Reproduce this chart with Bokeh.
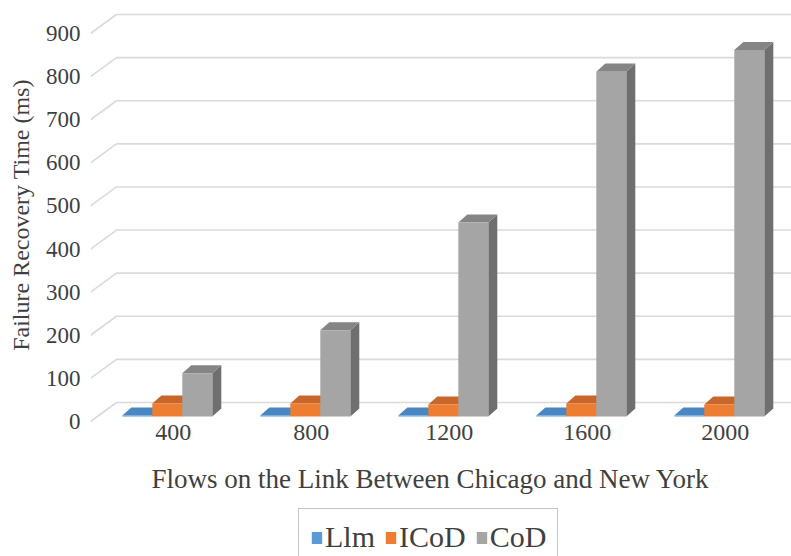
from bokeh.plotting import figure
from bokeh.layouts import column
from bokeh.models import Range1d, FixedTicker, Legend, LegendItem, Label
from bokeh.embed import file_html
from bokeh.resources import INLINE

# ---- data -------------------------------------------------------------
categories = ["400", "800", "1200", "1600", "2000"]
series_names = ["Llm", "ICoD", "CoD"]
llm_ms = [2, 2, 2, 2, 2]
icod_ms = [30, 30, 28, 30, 28]
cod_ms = [100, 200, 450, 800, 850]
y_ticks = [0, 100, 200, 300, 400, 500, 600, 700, 800, 900]

# ---- styling / pseudo-3D geometry ------------------------------------
FONT = "Liberation Serif"
TEXT = "#3f3f3f"
GRID = "#dadada"
front_colors = ["#5b9bd5", "#ed7d31", "#a5a5a5"]
top_colors = ["#4a86c2", "#c9672a", "#858585"]
side_colors = ["#3d72a8", "#b5581f", "#6f6f6f"]

PX_X = 1 / 138.0          # data units per pixel along x (one category = 138 px)
PX_Y = 1 / 0.431          # ms per pixel along y
BAR_W = 30 * PX_X
GROUP_SHIFT = -6 * PX_X   # bars sit a little left of the label centre
BAR_BASE = 5 * PX_Y       # bars stand a little behind the front plane
BAR_DX, BAR_DY = 9 * PX_X, 8 * PX_Y
WALL_DX, WALL_DY = 26 * PX_X, 19 * PX_Y
X_END = 5.2

centers = [i + 0.6 for i in range(len(categories))]


def bar_faces(vals, k):
    """Front, top and side polygons of series k, one bar per category."""
    f = ([], [])
    t = ([], [])
    s = ([], [])
    for c, v in zip(centers, vals):
        x0 = c + GROUP_SHIFT + (k - 1.5) * BAR_W
        x1 = x0 + BAR_W
        b = BAR_BASE
        top = b + v
        f[0].append([x0, x1, x1, x0]); f[1].append([b, b, top, top])
        t[0].append([x0, x1, x1 + BAR_DX, x0 + BAR_DX])
        t[1].append([top, top, top + BAR_DY, top + BAR_DY])
        s[0].append([x1, x1 + BAR_DX, x1 + BAR_DX, x1])
        s[1].append([b, b + BAR_DY, top + BAR_DY, top])
    return f, t, s


p = figure(width=791, height=454,
           x_range=Range1d(0, 701 * PX_X), y_range=Range1d(-7, 965),
           output_backend="svg", toolbar_location=None,
           min_border_left=90, min_border_right=0, min_border_top=5,
           min_border_bottom=30)
p.outline_line_color = None
p.xgrid.grid_line_color = None
p.ygrid.grid_line_color = None

# side-wall diagonals + back-wall gridlines
gx, gy = [], []
for t in y_ticks:
    gx.append([0, WALL_DX, X_END])
    gy.append([t, t + WALL_DY, t + WALL_DY])
p.multi_line(gx, gy, line_color=GRID, line_width=1.6)

# bars: side, top and front faces for each series
series_vals = [llm_ms, icod_ms, cod_ms]
for k, vals in enumerate(series_vals):
    f, t, s = bar_faces(vals, k)
    p.patches(s[0], s[1], fill_color=side_colors[k], line_color=None)
    p.patches(t[0], t[1], fill_color=top_colors[k], line_color=None)
    p.patches(f[0], f[1], fill_color=front_colors[k], line_color=None)

# y axis
p.yaxis.ticker = FixedTicker(ticks=y_ticks)
p.yaxis.axis_label = "Failure Recovery Time (ms)"
p.yaxis.axis_label_text_font = FONT
p.yaxis.axis_label_text_font_size = "24px"
p.yaxis.axis_label_text_font_style = "normal"
p.yaxis.axis_label_text_color = TEXT
p.yaxis.axis_label_standoff = 9
p.yaxis.major_label_text_font = FONT
p.yaxis.major_label_text_font_size = "23px"
p.yaxis.major_label_text_color = TEXT
p.yaxis.major_label_standoff = 10

# x axis (category labels)
p.xaxis.ticker = FixedTicker(ticks=centers)
p.xaxis.major_label_overrides = {c: lab for c, lab in zip(centers, categories)}
p.xaxis.major_label_text_font = FONT
p.xaxis.major_label_text_font_size = "24px"
p.xaxis.major_label_text_color = TEXT
p.xaxis.major_label_standoff = 0

for ax in (p.xaxis[0], p.yaxis[0]):
    ax.axis_line_color = None
    ax.major_tick_line_color = None
    ax.minor_tick_line_color = None
    ax.major_tick_out = 0
    ax.major_tick_in = 0

# lower strip: x-axis title and legend (legend renderers stay hidden)
low = figure(width=791, height=102, x_range=Range1d(0, 1), y_range=Range1d(0, 1),
             output_backend="svg", toolbar_location=None,
             min_border_left=90, min_border_right=0, min_border_top=0,
             min_border_bottom=0)
low.axis.visible = False
low.xgrid.grid_line_color = None
low.ygrid.grid_line_color = None
low.outline_line_color = None

low.add_layout(Label(x=340, y=78, x_units="screen", y_units="screen",
                     text="Flows on the Link Between Chicago and New York",
                     text_align="center", text_baseline="alphabetic",
                     text_font=FONT, text_font_size="27px", text_color=TEXT))

items = []
for k, (name, vals) in enumerate(zip(series_names, series_vals)):
    f, _, _ = bar_faces(vals, k)
    r = low.patches(f[0], f[1], fill_color=front_colors[k], line_color=None,
                    visible=False)
    items.append(LegendItem(label=name, renderers=[r]))
legend = Legend(items=items, orientation="horizontal", location=(208, -10),
                label_text_font=FONT, label_text_font_size="30px",
                label_text_color=TEXT, glyph_width=13, glyph_height=15,
                label_standoff=2, spacing=9, padding=11, margin=0,
                border_line_color="#8c8c8c", border_line_width=1.5)
low.add_layout(legend, "center")

layout = column(p, low, spacing=0)
open("out.html", "w").write(file_html(layout, INLINE))
